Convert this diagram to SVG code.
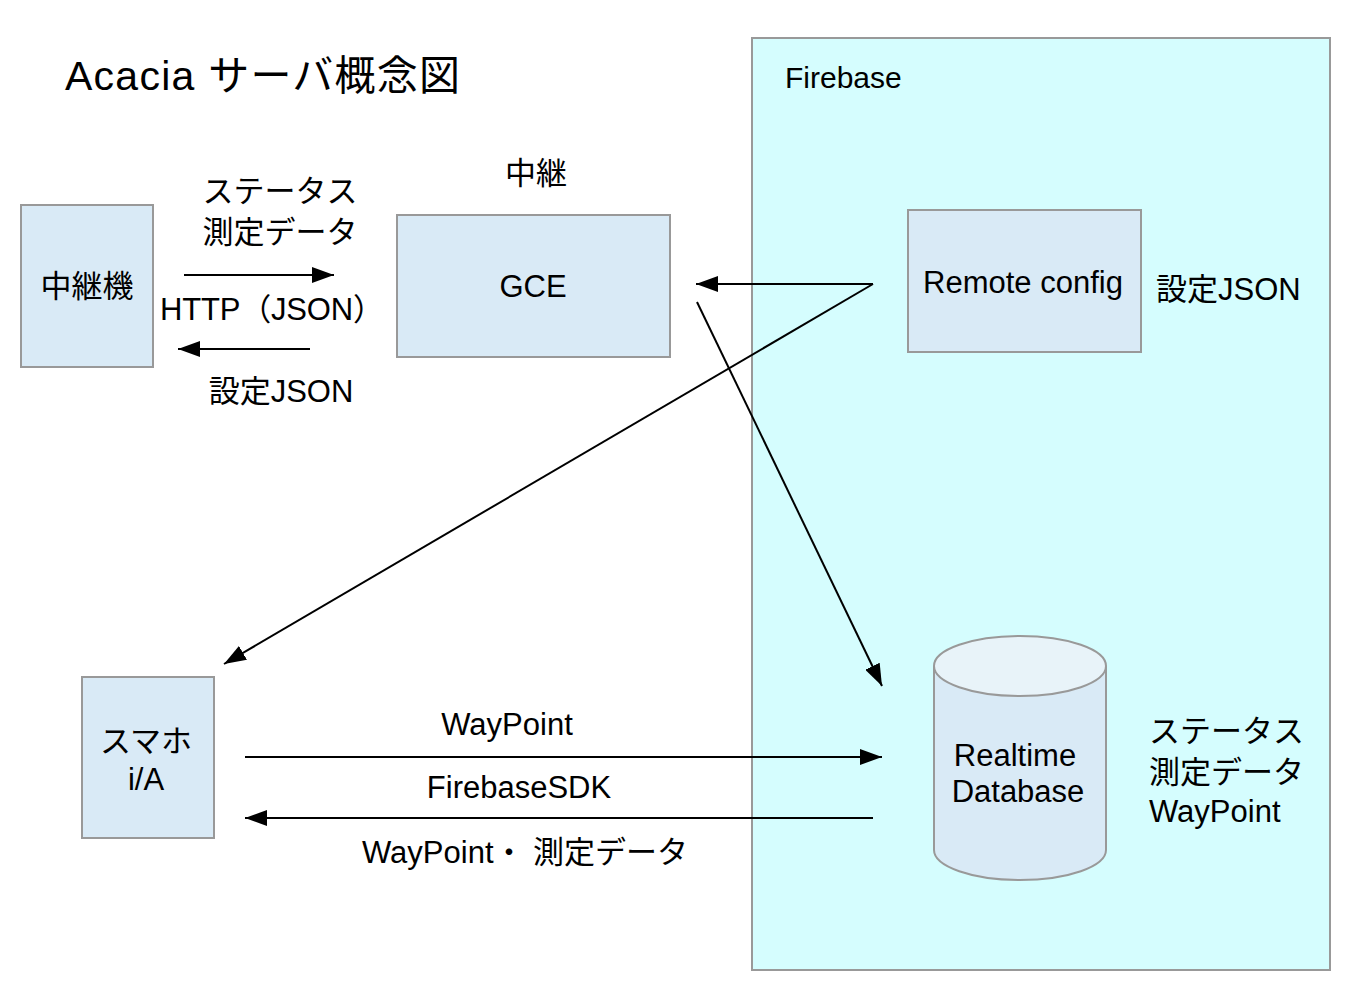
<svg xmlns="http://www.w3.org/2000/svg" width="1360" height="1000" viewBox="0 0 1360 1000">
<style>
text{font-family:"Liberation Sans","Noto Sans CJK JP",sans-serif;font-size:31px;fill:#000}
.box{fill:#d9eaf6;stroke:#999;stroke-width:2}
.c{text-anchor:middle}
.ln{stroke:#000;stroke-width:2;fill:none}
</style>
<defs>
<marker id="ah" markerUnits="userSpaceOnUse" markerWidth="24" markerHeight="16" refX="22" refY="8" orient="auto">
<path d="M0,0 L22,8 L0,16 Z" fill="#000"/>
</marker>
</defs>
<rect width="1360" height="1000" fill="#fff"/>
<text x="65" y="90" style="font-size:41px" textLength="395" lengthAdjust="spacing">Acacia サーバ概念図</text>
<g id="firebase">
<rect x="752" y="38" width="578" height="932" fill="#d5fdfe" stroke="#999" stroke-width="2"/>
<text x="785" y="88" style="font-size:30px">Firebase</text>
</g>
<g id="relay">
<rect class="box" x="21" y="205" width="132" height="162"/>
<text class="c" x="87" y="297">中継機</text>
</g>
<g id="gce">
<rect class="box" x="397" y="215" width="273" height="142"/>
<text class="c" x="533" y="297">GCE</text>
<text class="c" x="536" y="184">中継</text>
</g>
<g id="remote">
<rect class="box" x="908" y="210" width="233" height="142"/>
<text class="c" x="1023" y="293">Remote config</text>
<text x="1156" y="300">設定JSON</text>
</g>
<g id="rtdb">
<path d="M934,666 L934,850 A86,30 0 0 0 1106,850 L1106,666" fill="#d9eaf6" stroke="#999" stroke-width="2"/>
<ellipse cx="1020" cy="666" rx="86" ry="30" fill="#e8f3f9" stroke="#999" stroke-width="2"/>
<text class="c" x="1015" y="766">Realtime</text>
<text class="c" x="1018" y="802">Database</text>
<text x="1149" y="742">ステータス</text>
<text x="1149" y="783">測定データ</text>
<text x="1149" y="822">WayPoint</text>
</g>
<g id="phone">
<rect class="box" x="82" y="677" width="132" height="161"/>
<text class="c" x="146" y="752">スマホ</text>
<text class="c" x="146" y="790">i/A</text>
</g>
<g id="connectors">
<line class="ln" x1="184" y1="275" x2="334" y2="275" marker-end="url(#ah)"/>
<line class="ln" x1="310" y1="349" x2="178" y2="349" marker-end="url(#ah)"/>
<line class="ln" x1="873" y1="284" x2="696" y2="284" marker-end="url(#ah)"/>
<line class="ln" x1="873" y1="284" x2="224" y2="664" marker-end="url(#ah)"/>
<line class="ln" x1="697" y1="302" x2="882" y2="686" marker-end="url(#ah)"/>
<line class="ln" x1="245" y1="757" x2="882" y2="757" marker-end="url(#ah)"/>
<line class="ln" x1="873" y1="818" x2="245" y2="818" marker-end="url(#ah)"/>
</g>
<g id="labels">
<text class="c" x="280" y="202">ステータス</text>
<text class="c" x="280" y="243">測定データ</text>
<text x="160" y="320" textLength="224" lengthAdjust="spacing">HTTP（JSON）</text>
<text class="c" x="281" y="402">設定JSON</text>
<text class="c" x="507" y="735">WayPoint</text>
<text class="c" x="519" y="798">FirebaseSDK</text>
<text x="362" y="863">WayPoint・ 測定データ</text>
</g>
</svg>
